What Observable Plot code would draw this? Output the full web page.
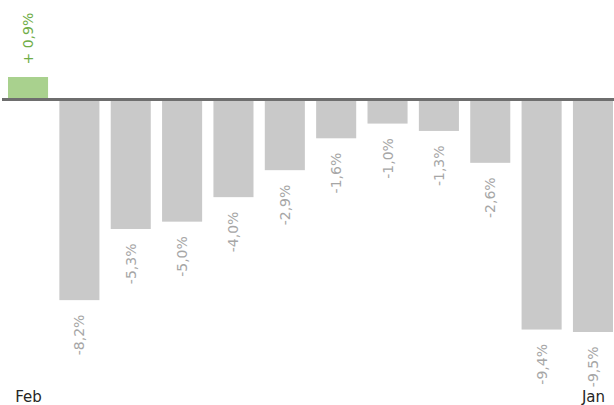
<!DOCTYPE html>
<html>
<head>
<meta charset="utf-8">
<script src="https://cdn.jsdelivr.net/npm/d3@7"></script>
<script src="https://cdn.jsdelivr.net/npm/@observablehq/plot@0.6"></script>
<style>
  html, body { margin: 0; padding: 0; background: #fff; }
</style>
</head>
<body>
<div id="chart"></div>
<script>
const months = ["Feb","Mar","Apr","May","Jun","Jul","Aug","Sep","Oct","Nov","Dec","Jan"];
const values = [0.9, -8.2, -5.3, -5.0, -4.0, -2.9, -1.6, -1.0, -1.3, -2.6, -9.4, -9.5];
const axisTicks = ["Feb", "Jan"];

const data = months.map((m, i) => ({month: m, value: values[i]}));
const fmt = v => Math.abs(v).toFixed(1).replace(".", ",");
const label = d => d.value >= 0 ? `+ ${fmt(d.value)}%` : `-${fmt(d.value)}%`;

const chart = Plot.plot({
  width: 614,
  height: 405,
  marginTop: 0,
  marginLeft: 2,
  marginRight: 0,
  marginBottom: 21,
  x: {domain: months, range: [8, 613], paddingInner: 0.22, paddingOuter: 0, round: false},
  y: {domain: [-9.5, 0.9], range: [332, 77], axis: null},
  style: {fontFamily: "DejaVu Sans", fontSize: "14px", background: "white", overflow: "visible"},
  marks: [
    Plot.barY(data, {x: "month", y: "value", fill: d => d.value >= 0 ? "#a9d18e" : "#c9c9c9"}),
    Plot.ruleY([0], {stroke: "#6e6e6e", strokeWidth: 3}),
    Plot.text(data.filter(d => d.value < 0), {
      x: "month", y: "value", text: label, rotate: -90,
      textAnchor: "end", dy: 14, fill: "#a6a6a6", fontSize: 14
    }),
    Plot.text(data.filter(d => d.value >= 0), {
      x: "month", y: "value", text: label, rotate: -90,
      textAnchor: "start", dy: -13, fill: "#70ad47", fontSize: 14
    }),
    Plot.axisX({ticks: axisTicks, tickSize: 0, tickPadding: 7, fontSize: 15, color: "#262626", label: null})
  ]
});
document.getElementById("chart").appendChild(chart);
</script>
</body>
</html>
